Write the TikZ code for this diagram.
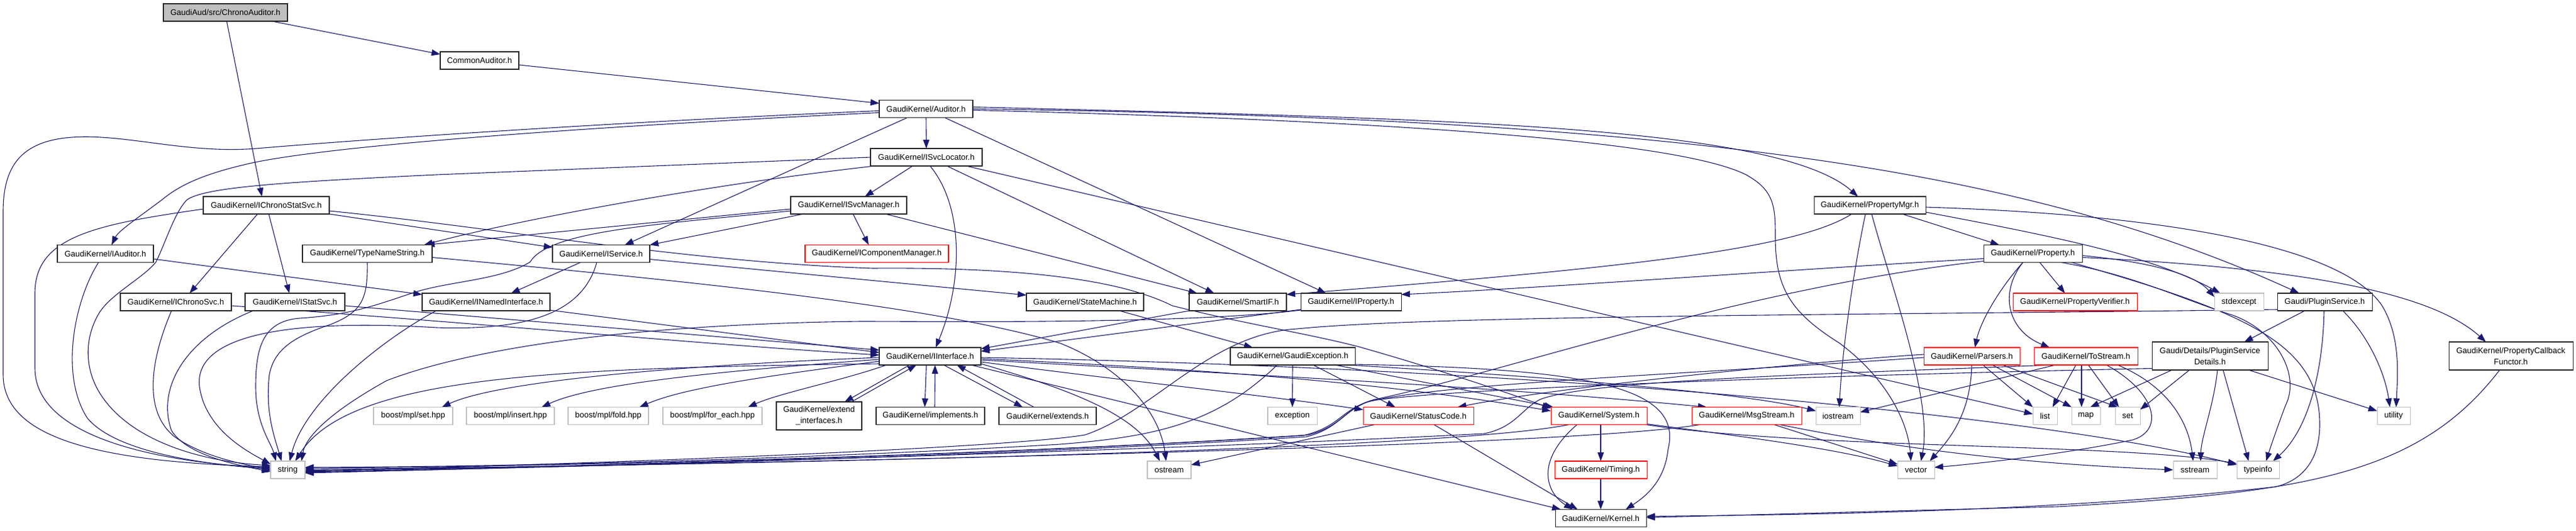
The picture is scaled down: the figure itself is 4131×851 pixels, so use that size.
\documentclass[tikz,border=0pt]{standalone}
\usepackage{fontspec}
\setmainfont{Liberation Sans}
\usetikzlibrary{arrows.meta,calc}
\definecolor{edgeblue}{HTML}{191970}
\definecolor{nodegray}{HTML}{BFBFBF}
\definecolor{rootfill}{HTML}{BFBFBF}
\pgfdeclarelayer{bg}
\pgfsetlayers{bg,main}
\newcommand\nodefnt{\fontsize{13}{18}\selectfont}
\tikzset{
  nb/.style={draw=black!85, line width=1.05pt, fill=white, inner sep=0pt, minimum height=28pt, font=\nodefnt, align=center},
  ng/.style={nb, draw=nodegray},
  nr/.style={nb, draw=red},
  ed/.style={draw=edgeblue, line width=1.1pt, -{Triangle[length=14pt,width=10pt]}},
}
\begin{document}
\begin{tikzpicture}[x=1pt,y=-1pt]
\useasboundingbox (0,0) rectangle (4131,851);
% ---------------- nodes ----------------
\node[nb,fill=rootfill,minimum width=199pt] (root) at (361.5,20) {GaudiAud/src/ChronoAuditor.h};
\node[nb,minimum width=126pt] (CA) at (769,97) {CommonAuditor.h};
\node[nb,minimum width=150pt] (AUD) at (1485,174.5) {GaudiKernel/Auditor.h};
\node[nb,minimum width=179pt] (SL) at (1485.5,252) {GaudiKernel/ISvcLocator.h};
\node[nb,minimum width=202pt] (CSS) at (427,329) {GaudiKernel/IChronoStatSvc.h};
\node[nb,minimum width=186pt] (SM) at (1361,329) {GaudiKernel/ISvcManager.h};
\node[nb,minimum width=179pt] (PM) at (2998.5,329) {GaudiKernel/PropertyMgr.h};
\node[nb,minimum width=154pt] (IA) at (169,406.5) {GaudiKernel/IAuditor.h};
\node[nb,minimum width=208pt] (TNS) at (589,406.5) {GaudiKernel/TypeNameString.h};
\node[nb,minimum width=156pt] (IS) at (964,406.5) {GaudiKernel/IService.h};
\node[nr,minimum width=230pt] (ICM) at (1406,406.5) {GaudiKernel/IComponentManager.h};
\node[nb,minimum width=158pt] (PR) at (3260,406.5) {GaudiKernel/Property.h};
\node[nb,minimum width=178pt] (ICS) at (282,484) {GaudiKernel/IChronoSvc.h};
\node[nb,minimum width=160pt] (IST) at (473,484) {GaudiKernel/IStatSvc.h};
\node[nb,minimum width=205pt] (INI) at (779.5,484) {GaudiKernel/INamedInterface.h};
\node[nb,minimum width=188pt] (STM) at (1740,484) {GaudiKernel/StateMachine.h};
\node[nb,minimum width=156pt] (SIF) at (1985,484) {GaudiKernel/SmartIF.h};
\node[nb,minimum width=161pt] (IP) at (2166.5,484) {GaudiKernel/IProperty.h};
\node[nr,minimum width=199pt] (PV) at (3327.5,484) {GaudiKernel/PropertyVerifier.h};
\node[ng,minimum width=79pt] (SE) at (3590.5,484) {stdexcept};
\node[nb,minimum width=152pt] (PS) at (3728,484) {Gaudi/PluginService.h};
\node[nb,minimum width=163pt] (II) at (1491.5,571) {GaudiKernel/IInterface.h};
\node[nb,minimum width=200pt] (GE) at (2073,571) {GaudiKernel/GaudiException.h};
\node[nr,minimum width=154pt] (PA) at (3162,571) {GaudiKernel/Parsers.h};
\node[nr,minimum width=166pt] (TS) at (3345,571) {GaudiKernel/ToStream.h};
\node[nb,minimum width=186pt,minimum height=45pt] (PSD) at (3544,570.5) {Gaudi/Details/PluginService\\Details.h};
\node[nb,minimum width=199pt,minimum height=45pt] (PCF) at (4026.5,570.5) {GaudiKernel/PropertyCallback\\Functor.h};
\node[ng,minimum width=127pt] (BSET) at (662.5,666.5) {boost/mpl/set.hpp};
\node[ng,minimum width=141pt] (BINS) at (818.5,666.5) {boost/mpl/insert.hpp};
\node[ng,minimum width=129pt] (BFOLD) at (975.5,666.5) {boost/mpl/fold.hpp};
\node[ng,minimum width=159pt] (BFE) at (1142.5,666.5) {boost/mpl/for\_each.hpp};
\node[nb,minimum width=137pt,minimum height=45pt] (EI) at (1313.5,666.5) {GaudiKernel/extend\\\_interfaces.h};
\node[nb,minimum width=174pt] (IMP) at (1492,666.5) {GaudiKernel/implements.h};
\node[nb,minimum width=156pt] (EXT) at (1680,666.5) {GaudiKernel/extends.h};
\node[ng,minimum width=79pt] (EXC) at (2072.5,666.5) {exception};
\node[nr,minimum width=177pt] (SC) at (2274.5,666.5) {GaudiKernel/StatusCode.h};
\node[nr,minimum width=154pt] (SYS) at (2564,666.5) {GaudiKernel/System.h};
\node[nr,minimum width=176pt] (MS) at (2801,666.5) {GaudiKernel/MsgStream.h};
\node[ng,minimum width=71pt] (IOS) at (2947.5,666.5) {iostream};
\node[ng,minimum width=39pt] (LIST) at (3279.5,666.5) {list};
\node[ng,minimum width=46pt] (MAP) at (3345,666.5) {map};
\node[ng,minimum width=40pt] (SET) at (3412,666.5) {set};
\node[ng,minimum width=53pt] (UTIL) at (3838.5,666.5) {utility};
\node[ng,minimum width=55pt] (STR) at (461.5,753) {string};
\node[ng,minimum width=70pt] (OST) at (1875,753) {ostream};
\node[nr,minimum width=148pt] (TIM) at (2567,753) {GaudiKernel/Timing.h};
\node[ng,minimum width=59pt] (VEC) at (3072.5,753) {vector};
\node[ng,minimum width=70pt] (SST) at (3520,753) {sstream};
\node[ng,minimum width=68pt] (TI) at (3621,753) {typeinfo};
\node[nb,minimum width=146pt] (KER) at (2567,830.5) {GaudiKernel/Kernel.h};
% ---------------- edges ----------------
\begin{pgfonlayer}{bg}
\fill[white] (0,0) rectangle (4131,851);
\draw[ed] ($(root)+(74.5,14)$) -- ($(CA)+(-63,-10)$);
\draw[ed] ($(root)+(2,14)$) -- ($(CSS)+(-7,-14)$);
\draw[ed] ($(CA)+(63,7)$) -- ($(AUD)+(-75,-9)$);
% Auditor
\draw[ed] ($(AUD)+(-75,3)$) .. controls (1000,195) and (600,222) .. (411,238) .. controls (300,247) and (200,214) .. (116,220) .. controls (30,226) and (5,270) .. (5,340) -- (5,600) .. controls (5,700) and (150,740) .. ($(STR)+(-27.5,-5)$);
\draw[ed] ($(AUD)+(-75,6)$) .. controls (900,205) and (520,235) .. (400,262) .. controls (330,278) and (290,295) .. (260,320) .. controls (220,350) and (190,370) .. ($(IA)+(10,-14)$);
\draw[ed] ($(AUD)+(-31,14.5)$) -- ($(IS)+(38,-14)$);
\draw[ed] ($(AUD)+(0,14.5)$) -- ($(SL)+(0,-14)$);
\draw[ed] ($(AUD)+(31,14.5)$) -- ($(IP)+(-40,-14)$);
\draw[ed] ($(AUD)+(75,-3)$) .. controls (2300,190) and (2850,200) .. ($(PM)+(-19,-14)$);
\draw[ed] ($(AUD)+(75,0)$) .. controls (2700,190) and (3250,270) .. ($(PS)+(-41,-14)$);
\draw[ed] ($(AUD)+(75,2)$) .. controls (2300,195) and (2700,230) .. (2800,280) .. controls (2845,305) and (2847,330) .. (2847,380) .. controls (2847,460) and (2870,500) .. (2950,550) .. controls (3030,610) and (3060,680) .. ($(VEC)+(-8,-14)$);
% ISvcLocator
\draw[ed] ($(SL)+(-22,14)$) -- ($(SM)+(26,-14)$);
\draw[ed] ($(SL)+(6,14)$) .. controls (1545,330) and (1545,450) .. ($(II)+(9,-14)$);
\draw[ed] ($(SL)+(33,14)$) -- ($(SIF)+(-38,-14)$);
\draw[ed] ($(SL)+(64,14)$) -- ($(LIST)+(-19.5,-3)$);
\draw[ed] ($(SL)+(-83,14)$) .. controls (1100,300) and (800,360) .. ($(TNS)+(91,-14)$);
\draw[ed] ($(SL)+(-89.5,0)$) -- (700,280) .. controls (450,292) and (330,300) .. (300,320) .. controls (280,340) and (265,390) .. (250,420) .. controls (230,445) and (180,470) .. (160,500) .. controls (135,540) and (135,590) .. (160,630) .. controls (210,710) and (330,740) .. ($(STR)+(-27.5,-7)$);
% ISvcManager
\draw[ed] ($(SM)+(-93,6)$) -- ($(TNS)+(94,-14)$);
\draw[ed] ($(SM)+(-93,9)$) .. controls (1050,360) and (880,370) .. (850,420) .. controls (800,450) and (720,450) .. (660,470) .. controls (600,490) and (560,505) .. (480,510) .. controls (420,515) and (410,560) .. (410,620) .. controls (410,680) and (435,710) .. ($(STR)+(-19,-14)$);
\draw[ed] ($(SM)+(-73,14)$) -- ($(IS)+(78,-14)$);
\draw[ed] ($(SM)+(7,14)$) -- ($(ICM)+(-13,-14)$);
\draw[ed] ($(SM)+(59,14)$) -- ($(SIF)+(-65,-14)$);
% IChronoStatSvc
\draw[ed] ($(CSS)+(-14,14)$) -- ($(ICS)+(22,-14)$);
\draw[ed] ($(CSS)+(4,14)$) -- ($(IST)+(-9,-14)$);
\draw[ed] ($(CSS)+(101,14)$) -- ($(IS)+(-78,-10)$);
\draw[ed] ($(CSS)+(-101,6)$) .. controls (150,360) and (56,380) .. (56,470) -- (56,590) .. controls (56,700) and (250,740) .. ($(STR)+(-27.5,-3)$);
\draw[ed] ($(CSS)+(101,9)$) .. controls (800,365) and (1100,420) .. (1400,430) .. controls (1650,428) and (1800,450) .. (1880,490) .. controls (2000,520) and (2100,535) .. (2180,556) .. controls (2300,590) and (2420,630) .. ($(SYS)+(-77,-12)$);
% IAuditor, TypeNameString, IService
\draw[ed] ($(IA)+(77,8.5)$) -- ($(INI)+(-102.5,-12)$);
\draw[ed] ($(IA)+(-11,14)$) .. controls (120,480) and (95,600) .. (140,670) .. controls (190,730) and (350,745) .. ($(STR)+(-27.5,-1)$);
\draw[ed] ($(TNS)+(0,14)$) .. controls (590,480) and (580,500) .. (530,520) .. controls (470,540) and (440,560) .. (432,600) .. controls (425,660) and (440,700) .. ($(STR)+(-10,-14)$);
\draw[ed] ($(TNS)+(104,6)$) .. controls (1100,450) and (1500,490) .. (1700,550) .. controls (1800,590) and (1860,660) .. ($(OST)+(-5,-14)$);
\draw[ed] ($(IS)+(-33,14)$) -- ($(INI)+(40,-14)$);
\draw[ed] ($(IS)+(78,9)$) -- ($(STM)+(-94,-11)$);
\draw[ed] ($(IS)+(-7,14)$) .. controls (935,500) and (850,530) .. (700,525) .. controls (450,510) and (310,540) .. (320,620) .. controls (330,690) and (400,725) .. ($(STR)+(-27.5,-9)$);
% IChronoSvc, IStatSvc, INamedInterface
\draw[ed] ($(ICS)+(-7,14)$) .. controls (240,580) and (230,660) .. (280,700) .. controls (330,735) and (400,745) .. ($(STR)+(-27.5,1)$);
\draw[ed] ($(ICS)+(89,6)$) .. controls (800,520) and (1100,550) .. ($(II)+(-81.5,-2)$);
\draw[ed] ($(IST)+(-67,14)$) .. controls (300,540) and (250,620) .. (275,690) .. controls (300,730) and (380,745) .. ($(STR)+(-27.5,3)$);
\draw[ed] ($(IST)+(80,6)$) -- ($(II)+(-81.5,-10)$);
\draw[ed] ($(INI)+(102.5,13)$) -- ($(II)+(-81.5,-6)$);
\draw[ed] ($(INI)+(-80,14)$) .. controls (620,540) and (490,640) .. ($(STR)+(3,-14)$);
% StateMachine, SmartIF, IProperty
\draw[ed] ($(STM)+(55,14)$) -- ($(GE)+(-64,-14)$);
\draw[ed] ($(SIF)+(-78,14)$) -- ($(II)+(81.5,-12)$);
\draw[ed] ($(IP)+(-80.5,12)$) -- ($(II)+(81.5,-8)$);
\draw[ed] ($(IP)+(-80.5,13)$) .. controls (1900,520) and (1500,515) .. (1380,515) .. controls (1000,520) and (750,560) .. (620,610) .. controls (530,660) and (490,700) .. ($(STR)+(22,-14)$);
% PropertyMgr
\draw[ed] ($(PM)+(52,14)$) -- ($(PR)+(-54,-14)$);
\draw[ed] ($(PM)+(-29,14)$) .. controls (2880,400) and (2600,430) .. ($(SIF)+(78,-12)$);
\draw[ed] ($(PM)+(-7,14)$) .. controls (2975,420) and (2955,550) .. ($(IOS)+(2,-14)$);
\draw[ed] ($(PM)+(3,14)$) .. controls (3030,450) and (3100,640) .. ($(VEC)+(8,-14)$);
\draw[ed] ($(PM)+(89.5,11)$) .. controls (3300,380) and (3450,410) .. ($(SE)+(-30,-14)$);
\draw[ed] ($(PM)+(89.5,3)$) .. controls (3500,345) and (3760,400) .. (3820,490) .. controls (3850,540) and (3845,600) .. ($(UTIL)+(4,-14)$);
% Property
\draw[ed] ($(PR)+(11,14)$) -- ($(PV)+(-16,-14)$);
\draw[ed] ($(PR)+(-16,14)$) .. controls (3200,470) and (3175,520) .. ($(PA)+(5,-14)$);
\draw[ed] ($(PR)+(-16,14)$) .. controls (3205,470) and (3220,530) .. ($(TS)+(-58,-14)$);
\draw[ed] ($(PR)+(-79,8)$) .. controls (2900,430) and (2500,460) .. ($(IP)+(80.5,-12)$);
\draw[ed] ($(PR)+(79,3)$) .. controls (3450,420) and (3520,440) .. ($(SE)+(-39.5,-8)$);
\draw[ed] ($(PR)+(45,14)$) .. controls (3420,440) and (3500,480) .. (3580,505) .. controls (3650,530) and (3690,600) .. (3665,650) .. controls (3650,690) and (3640,720) .. ($(TI)+(13,-14)$);
\draw[ed] ($(PR)+(62,14)$) .. controls (3600,500) and (3720,550) .. (3720,680) .. controls (3720,740) and (3690,770) .. (3650,780) .. controls (3300,820) and (2900,825) .. ($(KER)+(73,-3)$);
\draw[ed] ($(PR)+(79,6)$) .. controls (3700,430) and (3900,470) .. ($(PCF)+(-40,-22.5)$);
\draw[ed] ($(PR)+(-79,12)$) .. controls (2800,460) and (2400,600) .. (2205,640) .. controls (2158,652) and (2152,684) .. (2098,697) .. controls (1600,730) and (900,748) .. ($(STR)+(27.5,-3)$);
% PluginService and details
\draw[ed] ($(PS)+(-32,14)$) -- ($(PSD)+(55,-22.5)$);
\draw[ed] ($(PS)+(-1,14)$) .. controls (3725,600) and (3700,690) .. ($(TI)+(24,-14)$);
\draw[ed] ($(PS)+(29,14)$) .. controls (3800,540) and (3825,600) .. ($(UTIL)+(-6,-14)$);
\draw[ed] ($(PS)+(-76,12)$) .. controls (3000,505) and (2300,505) .. (2080,527) .. controls (1940,535) and (1850,660) .. (1740,697) .. controls (1600,720) and (900,745) .. ($(STR)+(27.5,2)$);
\draw[ed] ($(PSD)+(62,22.5)$) -- ($(UTIL)+(-26.5,-8)$);
\draw[ed] ($(PSD)+(21,22.5)$) -- ($(TI)+(-15,-14)$);
\draw[ed] ($(PSD)+(12,22.5)$) .. controls (3550,650) and (3530,700) .. ($(SST)+(9,-14)$);
\draw[ed] ($(PSD)+(-61,22.5)$) -- ($(MAP)+(7,-14)$);
\draw[ed] ($(PSD)+(-33,22.5)$) -- ($(SET)+(20,-10)$);
\draw[ed] ($(PSD)+(-93,20)$) .. controls (3000,600) and (2350,620) .. (2200,642) .. controls (2155,655) and (2150,686) .. (2095,700) .. controls (1600,732) and (900,749) .. ($(STR)+(27.5,4)$);
\draw[ed] ($(PCF)+(-18,22.5)$) .. controls (3880,760) and (3700,790) .. (3300,812) -- ($(KER)+(73,-1)$);
% IInterface
\draw[ed] ($(II)+(-81.5,2)$) .. controls (1100,585) and (800,610) .. ($(BSET)+(46,-14)$);
\draw[ed] ($(II)+(-81.5,5)$) .. controls (1150,595) and (950,615) .. ($(BINS)+(50,-14)$);
\draw[ed] ($(II)+(-81.5,8)$) .. controls (1250,600) and (1100,620) .. ($(BFOLD)+(50,-14)$);
\draw[ed] ($(II)+(-70,14)$) .. controls (1350,610) and (1250,630) .. ($(BFE)+(57,-14)$);
\draw[ed] ($(II)+(-33,14)$) -- ($(EI)+(41,-22.5)$);
\draw[ed] ($(EI)+(52,-22.5)$) -- ($(II)+(-22,14)$);
\draw[ed] ($(II)+(-6,14)$) -- ($(IMP)+(-9,-14)$);
\draw[ed] ($(IMP)+(7,-14)$) -- ($(II)+(8,14)$);
\draw[ed] ($(II)+(22,14)$) -- ($(EXT)+(-40,-14)$);
\draw[ed] ($(EXT)+(-22,-14)$) -- ($(II)+(43,14)$);
\draw[ed] ($(II)+(81.5,12)$) .. controls (1700,620) and (1820,660) .. ($(OST)+(-15,-14)$);
\draw[ed] ($(II)+(81.5,4)$) .. controls (1900,590) and (2200,610) .. ($(SYS)+(-77,-8)$);
\draw[ed] ($(II)+(81.5,9)$) .. controls (1800,610) and (2000,630) .. ($(SC)+(-88.5,-10)$);
\draw[ed] ($(II)+(81.5,6)$) .. controls (2000,600) and (2400,620) .. ($(MS)+(-64,-14)$);
\draw[ed] ($(II)+(66,14)$) -- ($(KER)+(-64,-14)$);
\draw[ed] ($(II)+(-81.5,12)$) .. controls (900,590) and (560,600) .. ($(STR)+(12,-14)$);
\draw[ed] ($(II)+(81.5,2)$) .. controls (2500,590) and (3300,670) .. ($(TI)+(-34,-8)$);
% GaudiException
\draw[ed] ($(GE)+(0,14)$) -- ($(EXC)+(0,-14)$);
\draw[ed] ($(GE)+(33,14)$) -- ($(SC)+(-37,-14)$);
\draw[ed] ($(GE)+(68,14)$) -- ($(SYS)+(-73,-14)$);
\draw[ed] ($(GE)+(-25,14)$) .. controls (1950,680) and (1850,700) .. (1700,712) .. controls (1400,730) and (900,748) .. ($(STR)+(27.5,-4)$);
\draw[ed] ($(GE)+(90,14)$) .. controls (2500,605) and (2800,630) .. ($(IOS)+(-35.5,-8)$);
\draw[ed] ($(GE)+(95,13)$) .. controls (2550,590) and (2700,620) .. (2675,720) .. controls (2670,770) and (2640,795) .. ($(KER)+(40,-14)$);
% StatusCode, System, Timing, MsgStream
\draw[ed] ($(SC)+(25,14)$) -- ($(KER)+(-37,-14)$);
\draw[ed] ($(SC)+(-70,14)$) -- ($(OST)+(35,-8)$);
\draw[ed] ($(SYS)+(3,14)$) -- ($(TIM)+(0,-14)$);
\draw[ed] ($(SYS)+(-35,14)$) .. controls (2460,740) and (2480,790) .. ($(KER)+(-45,-14)$);
\draw[ed] ($(SYS)+(77,13)$) .. controls (2800,700) and (2950,720) .. ($(VEC)+(-29.5,-6)$);
\draw[ed] ($(SYS)+(-48,14)$) .. controls (2300,725) and (1000,748) .. ($(STR)+(27.5,-1)$);
\draw[ed] ($(SYS)+(75,14)$) .. controls (2900,720) and (3400,710) .. ($(TI)+(-34,-10)$);
\draw[ed] ($(TIM)+(0,14)$) -- ($(KER)+(0,-14)$);
\draw[ed] ($(MS)+(44,14)$) -- ($(VEC)+(-29.5,-9)$);
\draw[ed] ($(MS)+(53,14)$) .. controls (3100,730) and (3300,745) .. ($(SST)+(-35,0)$);
\draw[ed] ($(MS)+(-75,14)$) .. controls (2500,720) and (1000,746) .. ($(STR)+(27.5,1)$);
% Parsers
\draw[ed] ($(PA)+(0,14)$) .. controls (3160,660) and (3130,700) .. ($(VEC)+(22,-14)$);
\draw[ed] ($(PA)+(18,14)$) -- ($(LIST)+(-19.5,-14)$);
\draw[ed] ($(PA)+(33,14)$) -- ($(MAP)+(-23,-14)$);
\draw[ed] ($(PA)+(49,14)$) -- ($(SET)+(-16,-14)$);
\draw[ed] ($(PA)+(-77,2)$) .. controls (2700,600) and (2300,615) .. (2190,645) .. controls (2150,660) and (2145,685) .. (2090,698) .. controls (1600,730) and (900,748) .. ($(STR)+(27.5,3)$);
\draw[ed] ($(PA)+(-77,-3)$) .. controls (2900,580) and (2500,620) .. ($(SC)+(63,-14)$);
% ToStream
\draw[ed] ($(TS)+(-16,14)$) -- ($(LIST)+(12,-14)$);
\draw[ed] ($(TS)+(-7,14)$) -- ($(MAP)+(-7,-14)$);
\draw[ed] ($(TS)+(4,14)$) -- ($(SET)+(-14,-14)$);
\draw[ed] ($(TS)+(33,14)$) .. controls (3460,630) and (3470,690) .. (3420,705) .. controls (3300,730) and (3150,745) .. ($(VEC)+(29.5,-4)$);
\draw[ed] ($(TS)+(51,14)$) .. controls (3480,620) and (3510,680) .. ($(SST)+(-3,-14)$);
\draw[ed] ($(TS)+(-49,14)$) -- ($(IOS)+(35.5,-6)$);
\draw[ed] ($(TS)+(-55,14)$) .. controls (2900,600) and (2550,610) .. (2470,640) .. controls (2440,655) and (2430,685) .. (2380,695) .. controls (1800,725) and (900,748) .. ($(STR)+(27.5,5)$);
\end{pgfonlayer}
\end{tikzpicture}
\end{document}
